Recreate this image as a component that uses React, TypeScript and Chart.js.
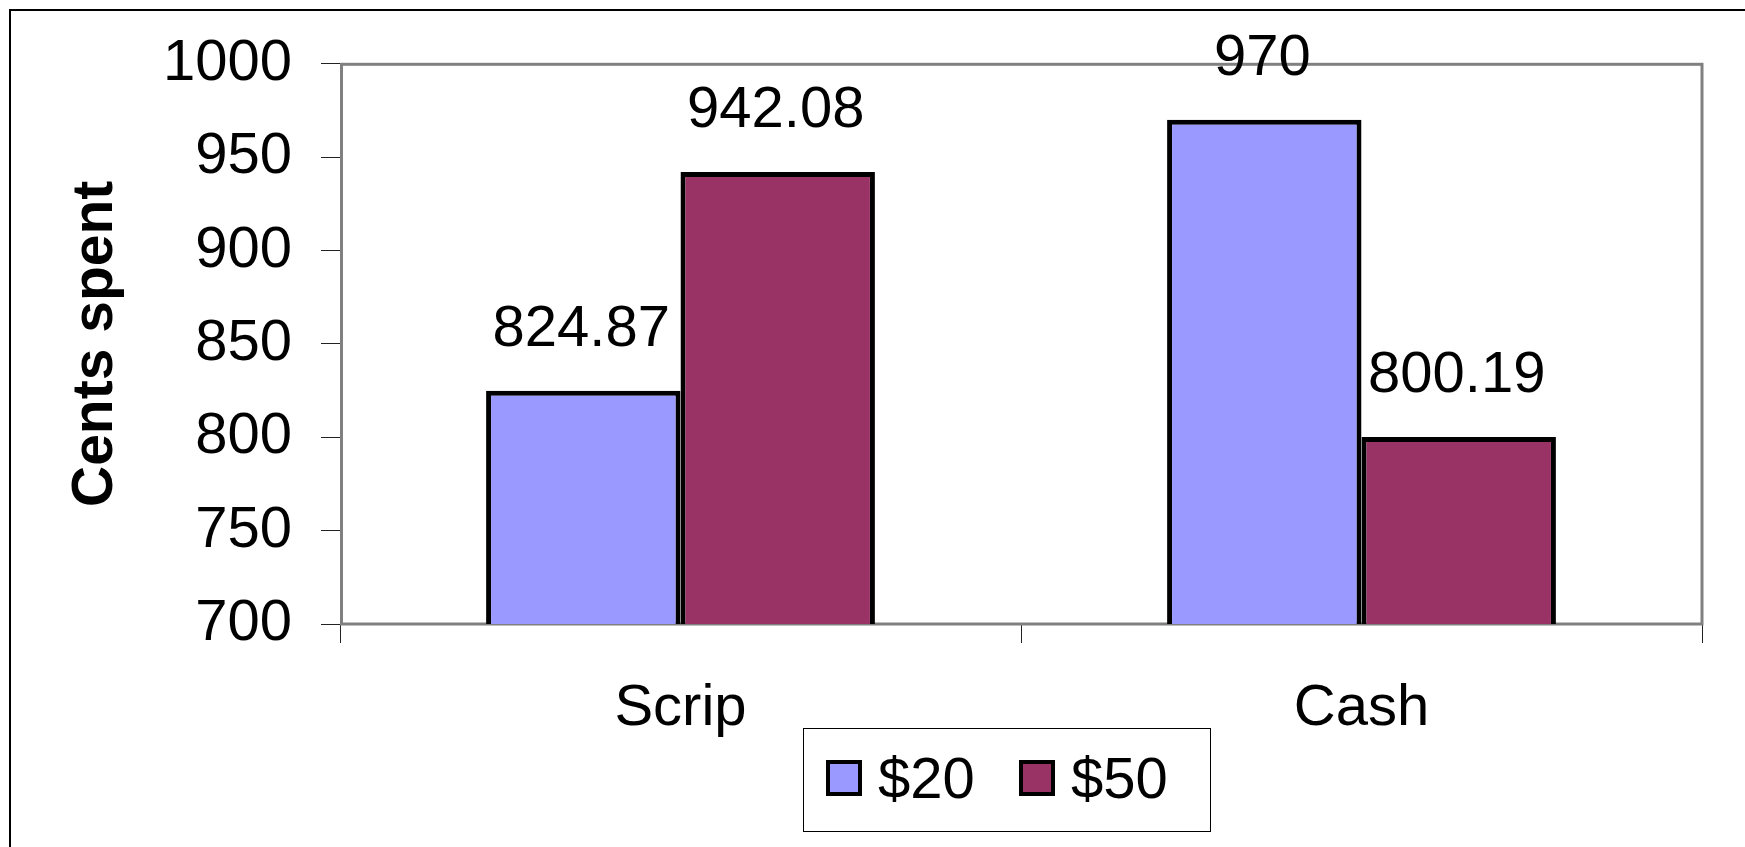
import React, { useEffect, useRef } from "react";
import { Chart, registerables } from "chart.js";

Chart.register(...registerables);

const categories = ["Scrip", "Cash"];
const seriesNames = ["$20", "$50"];
const values20 = [824.87, 970];
const values50 = [942.08, 800.19];
const seriesColors = ["#9999FF", "#993366"];
const yMin = 700;
const yMax = 1000;
const yStep = 50;
const yTitle = "Cents spent";

const FONT = "'Liberation Sans', Arial, Helvetica, sans-serif";
const W = 1745;
const H = 847;

const framePlugin = {
  id: "frame",
  beforeDraw(chart: any) {
    const ctx = chart.ctx;
    ctx.save();
    ctx.fillStyle = "#ffffff";
    ctx.fillRect(0, 0, chart.width, chart.height);
    ctx.strokeStyle = "#000000";
    ctx.lineWidth = 2;
    ctx.beginPath();
    ctx.moveTo(10, chart.height + 5);
    ctx.lineTo(10, 10);
    ctx.lineTo(chart.width + 5, 10);
    ctx.stroke();
    ctx.restore();
  },
  beforeDatasetsDraw(chart: any) {
    const { ctx, chartArea } = chart;
    ctx.save();
    ctx.strokeStyle = "#808080";
    ctx.lineWidth = 3;
    ctx.strokeRect(chartArea.left + 1.5, chartArea.top + 0.5, chartArea.right - chartArea.left - 1.5, chartArea.bottom - chartArea.top - 0.5);
    ctx.restore();
  },
};

const valueLabelPlugin = {
  id: "valueLabels",
  afterDatasetsDraw(chart: any) {
    const ctx = chart.ctx;
    ctx.save();
    ctx.font = `58px ${FONT}`;
    ctx.fillStyle = "#000000";
    ctx.textAlign = "center";
    ctx.textBaseline = "alphabetic";
    chart.data.datasets.forEach((ds: any, di: number) => {
      const meta = chart.getDatasetMeta(di);
      meta.data.forEach((el: any, i: number) => {
        ctx.fillText(String(ds.data[i]), el.x - 2, el.y - 45);
      });
    });
    ctx.restore();
  },
};

const legendPlugin = {
  id: "customLegend",
  afterDraw(chart: any) {
    const ctx = chart.ctx;
    ctx.save();
    ctx.strokeStyle = "#000000";
    ctx.lineWidth = 1;
    ctx.strokeRect(803.5, 728.5, 407, 103);
    ctx.font = `58px ${FONT}`;
    ctx.textAlign = "left";
    ctx.textBaseline = "alphabetic";
    chart.data.datasets.forEach((ds: any, i: number) => {
      const x = 828 + i * 193;
      const y = 762;
      ctx.fillStyle = ds.backgroundColor;
      ctx.fillRect(x, y, 32, 32);
      ctx.lineWidth = 4;
      ctx.strokeStyle = "#000000";
      ctx.strokeRect(x, y, 32, 32);
      ctx.fillStyle = "#000000";
      ctx.fillText(ds.label, x + 50, 798);
    });
    ctx.restore();
  },
};

export default function App() {
  const ref = useRef<HTMLCanvasElement | null>(null);

  useEffect(() => {
    if (!ref.current) return;
    const chart = new Chart(ref.current, {
      type: "bar",
      data: {
        labels: categories,
        datasets: [
          {
            label: seriesNames[0],
            data: values20,
            backgroundColor: seriesColors[0],
            borderColor: "#000000",
            borderWidth: 5,
            borderSkipped: false,
          },
          {
            label: seriesNames[1],
            data: values50,
            backgroundColor: seriesColors[1],
            borderColor: "#000000",
            borderWidth: 5,
            borderSkipped: false,
          },
        ],
      },
      options: {
        responsive: false,
        animation: false,
        devicePixelRatio: 1,
        events: [],
        layout: { padding: { top: 61, right: 43, left: 0, bottom: 0 } },
        datasets: {
          bar: { barPercentage: 1, categoryPercentage: 0.571 },
        },
        plugins: {
          legend: { display: false },
          tooltip: { enabled: false },
        },
        scales: {
          x: {
            grid: {
              display: true,
              drawOnChartArea: false,
              drawTicks: true,
              tickLength: 19,
              color: "#222222",
              lineWidth: 1,
              offset: true,
            },
            border: { display: false },
            ticks: {
              font: { family: FONT, size: 58 },
              color: "#000000",
              padding: 31,
              maxRotation: 0,
            },
            afterFit: (s: any) => {
              s.height = 223;
            },
          },
          y: {
            min: yMin,
            max: yMax,
            grid: {
              display: true,
              drawOnChartArea: false,
              drawTicks: true,
              tickLength: 19,
              color: "#222222",
              lineWidth: 1,
            },
            border: { display: false },
            ticks: {
              stepSize: yStep,
              font: { family: FONT, size: 58 },
              color: "#000000",
              padding: 29,
              callback: (v: any) => String(v),
            },
            title: {
              display: true,
              text: yTitle,
              font: { family: FONT, size: 57, weight: "bold" },
              color: "#000000",
              padding: { top: 62, bottom: 0 },
            },
            afterFit: (s: any) => {
              s.width = 340;
            },
          },
        },
      },
      plugins: [framePlugin, valueLabelPlugin, legendPlugin],
    } as any);
    return () => chart.destroy();
  }, []);

  return (
    <div style={{ position: "absolute", left: 0, top: 0, width: W, height: H, background: "#fff" }}>
      <canvas ref={ref} width={W} height={H} style={{ display: "block" }} />
    </div>
  );
}
